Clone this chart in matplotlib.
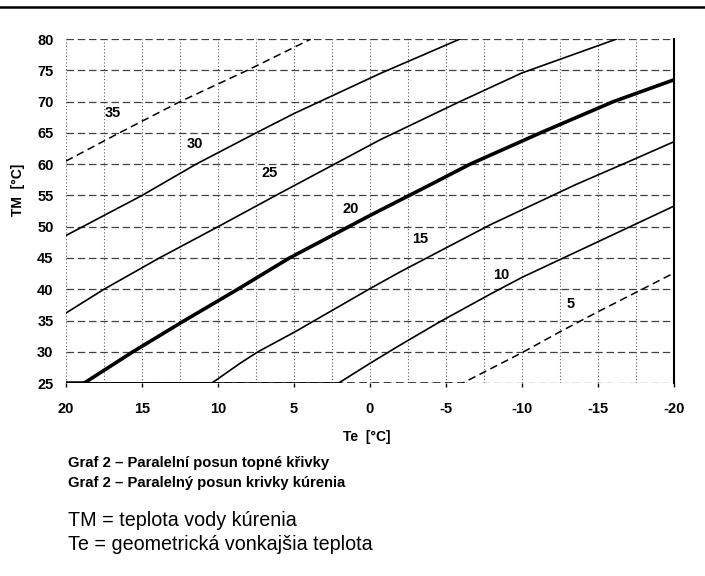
import matplotlib.pyplot as plt
from matplotlib.lines import Line2D

plt.rcParams['font.family'] = ['Liberation Sans', 'DejaVu Sans']
plt.rcParams['axes.unicode_minus'] = False

# curves: outside temperature Te -> water temperature TM
te_35 = [20, 16.5, 12.5, 8.0, 3.9]
tm_35 = [60.5, 65, 70, 75.1, 80]
te_30 = [20, 15, 11.45, 7.5, 5, -0.66, -5.9]
tm_30 = [48.6, 55, 60, 65, 68.1, 74.5, 80]
te_25 = [20, 17.5, 13.86, 10, 6.2, -0.66, -5.9, -10, -16.2]
tm_25 = [36.2, 40, 45, 50, 55, 63.9, 70, 74.6, 80]
te_20 = [20, 18.8, 15.6, 12.2, 8.7, 5.3, 0, -3.95, -6.58, -11.2, -16, -20]
tm_20 = [25, 25, 30, 35, 40, 45, 51.8, 56.7, 60, 65, 70, 73.5]
te_15 = [20, 10.4, 8.55, 7.37, 4.93, 0, -2, -7.9, -13.5, -17.1, -20]
tm_15 = [25, 25, 28.15, 30.0, 33.2, 40.1, 42.8, 50.3, 56.7, 60.5, 63.6]
te_10 = [20, 2.06, 0, -2, -4.6, -7.9, -10, -15, -20]
tm_10 = [25, 25, 28.15, 31.1, 34.8, 39.2, 41.9, 47.6, 53.3]
te_5 = [20, -6.1, -10, -12.5, -15, -17.5, -20]
tm_5 = [25, 25, 29.85, 33.2, 36.4, 39.5, 42.6]

labels = ['35', '30', '25', '20', '15', '10', '5']
label_te = [16.9, 11.5, 6.6, 1.3, -3.3, -8.65, -13.2]
label_tm = [68.2, 63.3, 58.6, 52.8, 48.0, 42.3, 37.7]

x_ticks = [20, 15, 10, 5, 0, -5, -10, -15, -20]
y_ticks = [25, 30, 35, 40, 45, 50, 55, 60, 65, 70, 75, 80]

fig = plt.figure(figsize=(7.05, 5.76), dpi=100)
ax = fig.add_axes([0.0936, 0.335, 0.8624, 0.597])

ax.set_xlim(20, -20)
ax.set_ylim(25, 80)
ax.set_xticks(x_ticks)
ax.set_xticks([20 - 2.5 * i for i in range(17)], minor=True)
ax.set_yticks(y_ticks)

ax.grid(True, which='both', axis='x', color='0.35', lw=0.8, linestyle=(0, (1, 2)))
ax.grid(True, which='major', axis='y', color='0.25', lw=0.9, linestyle=(0, (6, 3)))
ax.set_axisbelow(True)

for s in ['left', 'top', 'bottom']:
    ax.spines[s].set_visible(False)
ax.spines['right'].set_linewidth(1.5)

ax.tick_params(axis='x', which='major', length=3, width=1, pad=11, labelsize=10.5)
ax.tick_params(axis='x', which='minor', length=0)
ax.tick_params(axis='y', length=0, pad=9, labelsize=10.5)
for t in ax.get_xticklabels() + ax.get_yticklabels():
    t.set_fontweight('bold')

ax.plot(te_5, tm_5, color='black', lw=1.1, linestyle=(0, (5, 3)))
ax.plot(te_35, tm_35, color='black', lw=1.1, linestyle=(0, (5, 3)))
ax.plot(te_30, tm_30, color='black', lw=1.2)
ax.plot(te_25, tm_25, color='black', lw=1.2)
ax.plot(te_15, tm_15, color='black', lw=1.2)
ax.plot(te_10, tm_10, color='black', lw=1.2)
ax.plot(te_20, tm_20, color='black', lw=2.6)

for lab, x, y in zip(labels, label_te, label_tm):
    ax.text(x, y, lab, ha='center', va='center', fontsize=10.5, fontweight='bold')

fig.text(0.0255, 0.67, 'TM  [°C]', rotation=90, ha='center', va='center',
         fontsize=10, fontweight='bold')
fig.text(0.52, 0.241, 'Te  [°C]', ha='center', va='center',
         fontsize=10, fontweight='bold')

fig.text(0.0965, 0.196, 'Graf 2 – Paralelní posun topné křivky', ha='left', va='center',
         fontsize=10.7, fontweight='bold')
fig.text(0.0965, 0.161, 'Graf 2 – Paralelný posun krivky kúrenia', ha='left', va='center',
         fontsize=10.7, fontweight='bold')
fig.text(0.0965, 0.097, 'TM = teplota vody kúrenia', ha='left', va='center', fontsize=14.2)
fig.text(0.0965, 0.054, 'Te = geometrická vonkajšia teplota', ha='left', va='center', fontsize=14.2)

fig.add_artist(Line2D([0, 1], [0.988, 0.988], transform=fig.transFigure, color='black', lw=1.8))

fig.savefig('out.png', dpi=100)
